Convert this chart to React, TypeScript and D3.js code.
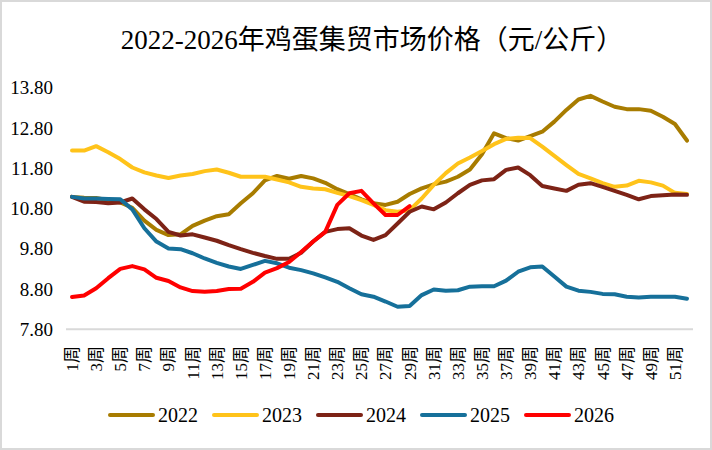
import * as React from "react";
import * as d3 from "d3";

// week numbers on the x axis
const weeks = [
    1, 2, 3, 4, 5, 6, 7, 8, 9, 10, 11, 12, 13, 14, 15, 16, 17, 18, 19, 20, 21, 22, 23, 24, 25, 26,
    27, 28, 29, 30, 31, 32, 33, 34, 35, 36, 37, 38, 39, 40, 41, 42, 43, 44, 45, 46, 47, 48, 49, 50, 51, 52
];

const yTicks = [7.8, 8.8, 9.8, 10.8, 11.8, 12.8, 13.8];

const prices2022 = [
    11.09, 11.07, 11.06, 11.01, 10.95, 10.82, 10.50, 10.27, 10.14, 10.16, 10.37, 10.50, 10.61,
    10.66, 10.93, 11.18, 11.50, 11.61, 11.54, 11.61, 11.55, 11.44, 11.28, 11.16, 11.03, 10.93,
    10.89, 10.97, 11.16, 11.30, 11.40, 11.47, 11.59, 11.77, 12.15, 12.67, 12.55, 12.49, 12.60,
    12.71, 12.96, 13.25, 13.51, 13.60, 13.46, 13.33, 13.27, 13.27, 13.23, 13.08, 12.90, 12.49
];

const prices2023 = [
    12.24, 12.24, 12.35, 12.20, 12.03, 11.82, 11.70, 11.62, 11.56, 11.62, 11.66, 11.73, 11.77,
    11.69, 11.59, 11.59, 11.59, 11.52, 11.45, 11.34, 11.30, 11.28, 11.19, 11.11, 11.01, 10.89,
    10.76, 10.72, 10.76, 11.05, 11.39, 11.68, 11.92, 12.07, 12.23, 12.40, 12.53, 12.56, 12.55,
    12.34, 12.11, 11.88, 11.66, 11.55, 11.43, 11.34, 11.37, 11.49, 11.45, 11.37, 11.19, 11.16
];

const prices2024 = [
    11.09, 10.97, 10.96, 10.93, 10.95, 11.05, 10.78, 10.54, 10.22, 10.13, 10.16, 10.08, 10.00,
    9.89, 9.79, 9.70, 9.62, 9.55, 9.55, 9.70, 9.98, 10.22, 10.29, 10.31, 10.13, 10.02,
    10.14, 10.43, 10.72, 10.85, 10.78, 10.95, 11.18, 11.39, 11.50, 11.53, 11.76, 11.82, 11.63,
    11.36, 11.30, 11.24, 11.39, 11.43, 11.34, 11.24, 11.14, 11.03, 11.11, 11.13, 11.15, 11.14
];

const prices2025 = [
    11.09, 11.05, 11.05, 11.04, 11.03, 10.78, 10.31, 9.98, 9.81, 9.79, 9.69, 9.56, 9.45,
    9.36, 9.30, 9.40, 9.50, 9.44, 9.33, 9.27, 9.19, 9.09, 8.98, 8.82, 8.67, 8.61,
    8.49, 8.36, 8.38, 8.65, 8.79, 8.76, 8.77, 8.86, 8.87, 8.87, 9.01, 9.23, 9.34,
    9.36, 9.11, 8.86, 8.76, 8.73, 8.68, 8.67, 8.61, 8.59, 8.61, 8.61, 8.61, 8.56
];

const prices2026 = [
    8.60, 8.64, 8.82, 9.07, 9.30, 9.37, 9.29, 9.08, 9.00, 8.84, 8.75, 8.73, 8.75,
    8.80, 8.81, 8.98, 9.21, 9.32, 9.47, 9.72, 9.98, 10.22, 10.89, 11.18, 11.24, 10.93,
    10.64, 10.64, 10.86
];

const seriesNames = ["2022", "2023", "2024", "2025", "2026"];
const seriesValues = [prices2022, prices2023, prices2024, prices2025, prices2026];

const colors: { [name: string]: string } = {
    "2022": "#a87c00",
    "2023": "#ffc31a",
    "2024": "#7d2316",
    "2025": "#16709a",
    "2026": "#ff0000",
};

const width = 712;
const height = 450;
const serif = "'Liberation Serif', 'Times New Roman', 'Noto Sans CJK SC', serif";

export default class App extends React.Component {
    render() {
        const xScale = d3.scaleBand<number>().domain(weeks).range([66, 693]);
        const xCenter = (w: number) => (xScale(w) || 0) + xScale.bandwidth() / 2;
        const yScale = d3.scaleLinear().domain([7.8, 13.8]).range([329.3, 87.8]);

        const lineGenerator = d3.line<number>()
            .x((_d, i) => xCenter(weeks[i]))
            .y(d => yScale(d));

        const xLabels = weeks.filter(w => w % 2 === 1).map(w =>
            <text key={w} transform={`translate(${xCenter(w)},346) rotate(-90)`}
                textAnchor="end" dy="0.35em" fontSize={17} fontFamily={serif} fill="#000">
                {w}周
            </text>
        );

        const yLabels = yTicks.map(t =>
            <text key={t} x={53} y={yScale(t)} dy="0.35em" textAnchor="end"
                fontSize={19} fontFamily={serif} fill="#000">
                {t.toFixed(2)}
            </text>
        );

        const lines = seriesNames.map((name, i) =>
            <path key={name} d={lineGenerator(seriesValues[i]) || ""} fill="none"
                stroke={colors[name]} strokeWidth={4} strokeLinejoin="round" strokeLinecap="round" />
        );

        const legend = seriesNames.map((name, i) => {
            const lx = 110 + i * 104;
            return <g key={name}>
                <line x1={lx} x2={lx + 43} y1={415} y2={415} stroke={colors[name]} strokeWidth={4} strokeLinecap="round" />
                <text x={lx + 48} y={415} dy="0.35em" fontSize={20} fontFamily={serif} fill="#000">{name}</text>
            </g>;
        });

        return <div style={{ position: "absolute", left: 0, top: 0 }}>
            <svg width={width} height={height} style={{ display: "block" }}>
                <rect x={0} y={0} width={width} height={height} fill="#fff" />
                <rect x={1} y={1} width={width - 2} height={height - 2} fill="none" stroke="#d9d9d9" strokeWidth={2} />

                <text x={372} y={49} textAnchor="middle" fontSize={27} fontFamily={serif} fill="#000">
                    2022-2026年鸡蛋集贸市场价格（元/公斤）
                </text>

                <line x1={66} x2={693} y1={yScale(7.8)} y2={yScale(7.8)} stroke="#d9d9d9" strokeWidth={2} />
                {yLabels}
                {xLabels}
                {lines}
                {legend}
            </svg>
        </div>;
    }
}
